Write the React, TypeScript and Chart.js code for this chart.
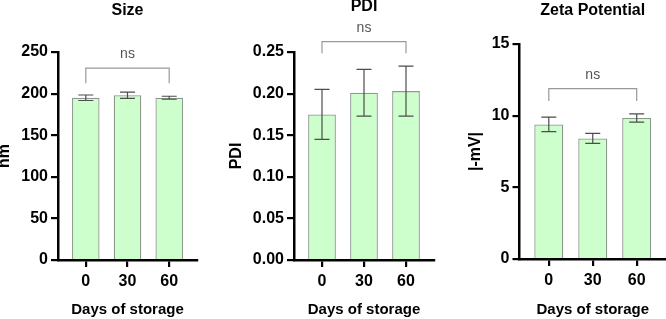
import React, { useEffect, useRef } from 'react';
import { Chart, registerables } from 'chart.js';

Chart.register(...registerables);

// ---- Data ----
const days = [0, 30, 60];

const sizeMean = [195, 198, 195];
const sizeSd = [3.3, 3.8, 1.8];
const sizeTicks = [0, 50, 100, 150, 200, 250];
const sizeBracket = [230.5, 212.5];

const pdiMean = [0.175, 0.201, 0.203];
const pdiSd = [0.03, 0.028, 0.03];
const pdiTicks = [0, 0.05, 0.1, 0.15, 0.2, 0.25];
const pdiBracket = [0.2624, 0.2484];

const zetaMean = [9.39, 8.41, 9.84];
const zetaSd = [0.51, 0.35, 0.29];
const zetaTicks = [0, 5, 10, 15];
const zetaBracket = [11.88, 11.02];

const sigLabel = 'ns';
const xTitle = 'Days of storage';

const FONT = "'Liberation Sans', Arial, Helvetica, sans-serif";

type PanelProps = {
  left: number;
  width: number;
  title: string;
  yTitle: string;
  means: number[];
  sds: number[];
  ticks: number[];
  decimals: number;
  bracket: number[];
  yWidth: number;
  padRight: number;
  chartTop: number;
  chartBottom: number;
  titleCenterY: number;
  yTitleCenterX: number;
};

function Panel(p: PanelProps) {
  const ref = useRef<HTMLCanvasElement | null>(null);
  useEffect(() => {
    if (!ref.current) return;
    const H = 319;
    const titleLH = 16 * 1.2;
    const titlePadTop = p.titleCenterY - titleLH / 2;
    const titlePadBottom = p.chartTop - titlePadTop - titleLH;
    const yTitleLH = 16 * 1.2;

    const extras = {
      id: 'extras',
      afterDatasetsDraw(chart: any) {
        const { ctx } = chart;
        const x = chart.scales.x;
        const y = chart.scales.y;
        ctx.save();
        ctx.strokeStyle = '#4d4d4d';
        ctx.lineWidth = 1.2;
        days.forEach((d, i) => {
          const px = x.getPixelForValue(d);
          const t = y.getPixelForValue(p.means[i] + p.sds[i]);
          const b = y.getPixelForValue(p.means[i] - p.sds[i]);
          ctx.beginPath();
          ctx.moveTo(px, t);
          ctx.lineTo(px, b);
          ctx.moveTo(px - 7.5, t);
          ctx.lineTo(px + 7.5, t);
          ctx.moveTo(px - 7.5, b);
          ctx.lineTo(px + 7.5, b);
          ctx.stroke();
        });
        const x1 = x.getPixelForValue(days[0]);
        const x2 = x.getPixelForValue(days[days.length - 1]);
        const yt = y.getPixelForValue(p.bracket[0]);
        const yd = y.getPixelForValue(p.bracket[1]);
        ctx.strokeStyle = '#999999';
        ctx.lineWidth = 1.2;
        ctx.beginPath();
        ctx.moveTo(x1, yd);
        ctx.lineTo(x1, yt);
        ctx.lineTo(x2, yt);
        ctx.lineTo(x2, yd);
        ctx.stroke();
        ctx.fillStyle = '#555555';
        ctx.font = `14px ${FONT}`;
        ctx.textAlign = 'center';
        ctx.textBaseline = 'middle';
        ctx.fillText(sigLabel, (x1 + x2) / 2, yt - 14);
        ctx.restore();
      },
    };

    const chart = new Chart(ref.current, {
      type: 'bar',
      data: {
        datasets: [
          {
            data: days.map((d, i) => ({ x: d, y: p.means[i] })),
            backgroundColor: 'rgb(204, 255, 204)',
            borderColor: '#8c988c',
            borderWidth: 1.3,
            borderSkipped: 'start',
            categoryPercentage: 1,
            barPercentage: 0.66,
          } as any,
        ],
      },
      options: {
        animation: false,
        responsive: false,
        devicePixelRatio: 1,
        layout: { padding: { left: 0, right: p.padRight, top: 0, bottom: 0 } },
        plugins: {
          legend: { display: false },
          tooltip: { enabled: false },
          title: {
            display: true,
            text: p.title,
            fullSize: false,
            color: '#000',
            font: { family: FONT, size: 16, weight: 'bold' },
            padding: { top: titlePadTop, bottom: titlePadBottom },
          } as any,
        },
        scales: {
          x: {
            type: 'linear',
            min: -20,
            max: 80,
            offset: false,
            z: 1,
            grid: {
              offset: false,
              drawOnChartArea: false,
              drawTicks: true,
              tickLength: 7,
              color: '#000',
              lineWidth: 2.2,
            },
            border: { display: true, color: '#000', width: 2.5 },
            afterBuildTicks: (scale: any) => {
              scale.ticks = days.map((v) => ({ value: v }));
            },
            afterFit: (scale: any) => {
              scale.height = H - p.chartBottom;
            },
            ticks: {
              color: '#000',
              font: { family: FONT, size: 16, weight: 'bold' },
              padding: 5,
              maxRotation: 0,
              autoSkip: false,
              callback: (v: any) => String(v),
            },
            title: {
              display: true,
              text: xTitle,
              color: '#000',
              font: { family: FONT, size: 15, weight: 'bold' },
              padding: { top: 0, bottom: 0 },
            },
          } as any,
          y: {
            type: 'linear',
            min: p.ticks[0],
            max: p.ticks[p.ticks.length - 1],
            z: 1,
            grid: {
              drawOnChartArea: false,
              drawTicks: true,
              tickLength: 7,
              color: '#000',
              lineWidth: 2.2,
            },
            border: { display: true, color: '#000', width: 2.5 },
            afterBuildTicks: (scale: any) => {
              scale.ticks = p.ticks.map((v) => ({ value: v }));
            },
            afterFit: (scale: any) => {
              scale.width = p.yWidth;
            },
            ticks: {
              color: '#000',
              font: { family: FONT, size: 16, weight: 'bold' },
              padding: 3,
              autoSkip: false,
              callback: (v: any) => Number(v).toFixed(p.decimals),
            },
            title: {
              display: true,
              text: p.yTitle,
              color: '#000',
              font: { family: FONT, size: 16, weight: 'bold' },
              padding: { top: p.yTitleCenterX - yTitleLH / 2, bottom: 0 },
            },
          } as any,
        },
      },
      plugins: [extras],
    } as any);
    return () => chart.destroy();
  }, []);

  return (
    <canvas
      ref={ref}
      width={p.width}
      height={319}
      style={{ position: 'absolute', left: p.left, top: 0, width: p.width, height: 319, display: 'block' }}
    />
  );
}

export default function App() {
  return (
    <div style={{ position: 'absolute', left: 0, top: 0, width: 666, height: 319, background: '#fff', overflow: 'hidden' }}>
      <Panel
        left={0}
        width={222}
        title="Size"
        yTitle="nm"
        means={sizeMean}
        sds={sizeSd}
        ticks={sizeTicks}
        decimals={0}
        bracket={sizeBracket}
        yWidth={58}
        padRight={25}
        chartTop={52}
        chartBottom={260}
        titleCenterY={11}
        yTitleCenterX={4.5}
      />
      <Panel
        left={222}
        width={222}
        title="PDI"
        yTitle="PDI"
        means={pdiMean}
        sds={pdiSd}
        ticks={pdiTicks}
        decimals={2}
        bracket={pdiBracket}
        yWidth={72}
        padRight={10}
        chartTop={52}
        chartBottom={260}
        titleCenterY={7}
        yTitleCenterX={15}
      />
      <Panel
        left={444}
        width={222}
        title="Zeta Potential"
        yTitle="|-mV|"
        means={zetaMean}
        sds={zetaSd}
        ticks={zetaTicks}
        decimals={0}
        bracket={zetaBracket}
        yWidth={75.5}
        padRight={0}
        chartTop={44}
        chartBottom={259}
        titleCenterY={11}
        yTitleCenterX={31.7}
      />
    </div>
  );
}
